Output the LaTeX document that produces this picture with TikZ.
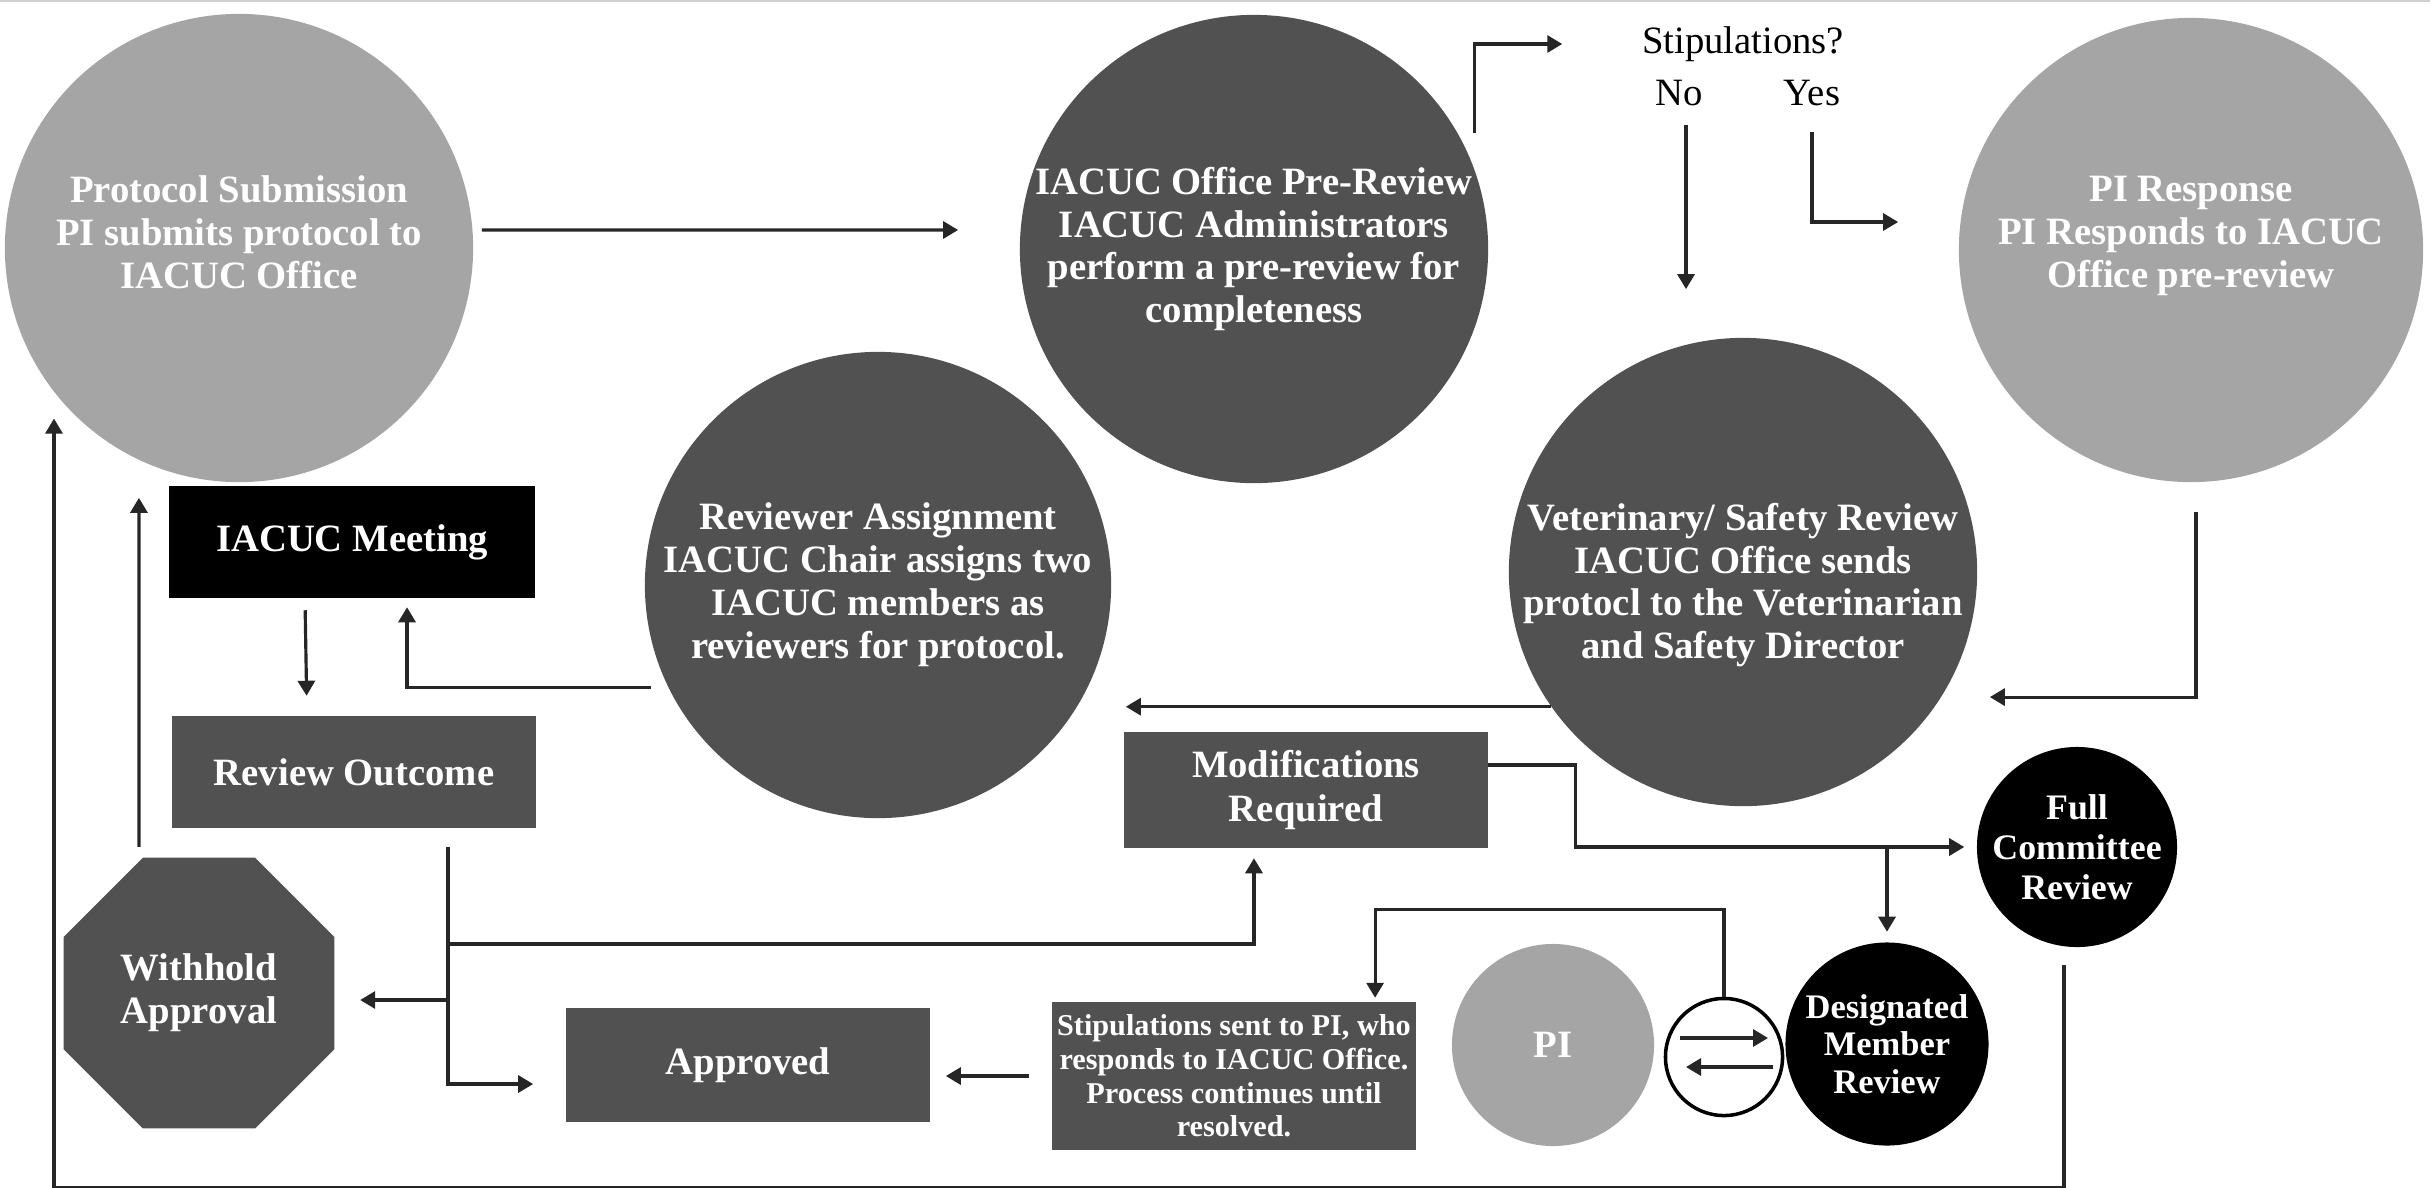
\documentclass[tikz,border=0pt]{standalone}
\usepackage{fontspec}
\setmainfont{Liberation Serif}
\usetikzlibrary{arrows.meta,shapes.geometric}
\definecolor{lightdisc}{HTML}{A5A5A5}
\definecolor{darkdisc}{HTML}{515151}
\definecolor{rulegray}{HTML}{D0D0D0}
\begin{document}
\begin{tikzpicture}[x=0.01cm,y=-0.01cm,
    arr/.style={draw=black!85, line width=0.9pt, -{Triangle[length=0.15cm,width=0.17cm]}},
    bigdisc/.style={circle, minimum size=4.68cm, inner sep=0pt},
    smalldisc/.style={circle, minimum size=2.02cm, inner sep=0pt},
    wtxt/.style={text=white, font=\bfseries\fontsize{11}{12.2}\selectfont, align=center},
    box/.style={rectangle, minimum width=3.64cm, minimum height=1.12cm, inner sep=0pt,
      fill=darkdisc, text=white, font=\bfseries\fontsize{11}{12.6}\selectfont, align=center},
    plain/.style={inner sep=0pt, font=\fontsize{11}{12}\selectfont}]

\useasboundingbox (0,0) rectangle (2430,1187);
\draw[rulegray, line width=0.6pt] (0,1) -- (2430,1);

% big steps
\node[bigdisc, fill=lightdisc, label={[wtxt, yshift=0.16cm]center:{Protocol Submission\\PI submits protocol to\\IACUC Office}}] (ps) at (239,248) {};
\node[bigdisc, fill=darkdisc, label={[wtxt]center:{IACUC Office Pre-Review\\IACUC Administrators\\perform a pre-review for\\completeness}}] (pr) at (1254,249) {};
\node[bigdisc, fill=lightdisc, minimum size=4.64cm, label={[wtxt, yshift=0.14cm]center:{PI Response\\PI Responds to IACUC\\Office pre-review}}] (pir) at (2191,250) {};
\node[bigdisc, fill=darkdisc, minimum size=4.66cm, label={[wtxt]center:{Reviewer Assignment\\IACUC Chair assigns two\\IACUC members as\\reviewers for protocol.}}] (ra) at (878,585) {};
\node[bigdisc, fill=darkdisc, label={[wtxt, yshift=-0.13cm]center:{Veterinary/ Safety Review\\IACUC Office sends\\protocl to the Veterinarian\\and Safety Director}}] (vs) at (1743,572) {};

\node[plain] (stq) at (1743,44) {Stipulations?};
\node[plain] (no) at (1679,93) {No};
\node[plain] (yes) at (1812,93) {Yes};

% boxes
\node[box, fill=black, minimum width=3.65cm, minimum height=1.11cm] (meeting) at (352,542) {IACUC Meeting};
\node[box, minimum height=1.11cm] (outcome) at (354,772) {Review Outcome};
\node[regular polygon, regular polygon sides=8, minimum size=2.93cm, inner sep=0pt, fill=darkdisc,
  text=white, font=\bfseries\fontsize{11}{12.2}\selectfont, align=center] (withhold) at (199,993) {Withhold\\Approval};
\node[box, minimum height=1.13cm] (approved) at (748,1065) {Approved};
\node[box, minimum width=3.63cm, minimum height=1.15cm] (mods) at (1306,790) {Modifications\\Required};
\node[box, minimum width=3.63cm, minimum height=1.47cm, font=\bfseries\fontsize{8.6}{9.6}\selectfont] (stip) at (1234,1076)
  {Stipulations sent to PI, who\\responds to IACUC Office.\\Process continues until\\resolved.};

% small discs
\node[smalldisc, fill=black, minimum size=2.0cm, label={[wtxt, font=\bfseries\fontsize{10.2}{11.3}\selectfont]center:{Full\\Committee\\Review}}] (fcr) at (2077,847) {};
\node[smalldisc, fill=black, minimum size=2.03cm, label={[wtxt, font=\bfseries\fontsize{9.8}{10.6}\selectfont]center:{Designated\\Member\\Review}}] (dmr) at (1887,1044) {};
\node[smalldisc, fill=lightdisc, label={[wtxt]center:{PI}}] (pi) at (1553,1045) {};
\node[circle, minimum size=1.17cm, inner sep=0pt, draw=black, line width=1pt, fill=white] (xch) at (1724,1057) {};
\draw[arr] ([xshift=-0.44cm,yshift=0.19cm]xch.center) -- ([xshift=0.44cm,yshift=0.19cm]xch.center);
\draw[arr] ([xshift=0.49cm,yshift=-0.1cm]xch.center) -- ([xshift=-0.38cm,yshift=-0.1cm]xch.center);

% connectors
\draw[arr, shorten <=0.08cm, shorten >=0.61cm] ([yshift=0.18cm]ps.east) -- ([yshift=0.19cm]pr.west);
\draw[arr, shorten <=0.36cm, shorten >=0.79cm] (pr.20) |- (stq.west);
\draw[arr, shorten <=0.18cm, shorten >=0.48cm] ([xshift=0.07cm]no.south) -- ([xshift=0.07cm]no.south |- vs.north);
\draw[arr, shorten <=0.25cm, shorten >=0.6cm] (yes.south) |- ([yshift=0.28cm]pir.west);
\draw[arr, shorten <=0.29cm, shorten >=0.12cm] ([xshift=0.05cm]pir.south) |- ([yshift=-1.25cm]vs.east);
\draw[arr, shorten >=0.14cm] (vs.215) -- (vs.215 -| ra.east);
\draw[arr, shorten <=0.17cm, shorten >=0.09cm] (ra.206) -| ([xshift=0.55cm]meeting.south);
\draw[arr, shorten <=0.12cm, shorten >=0.2cm] ([xshift=-0.47cm]meeting.south) -- ([xshift=-0.47cm]outcome.north);
\draw[arr, shorten <=0.1cm, shorten >=0.15cm] ([xshift=-0.6cm]withhold.north) -- ([xshift=-1cm]ps.south);

\coordinate (jmod) at (448,944);
\coordinate (jwh) at (448,1000);
\draw[arr, shorten <=0.19cm, shorten >=0.32cm] ([xshift=0.94cm]outcome.south) |- ([yshift=-0.19cm]approved.west);
\draw[arr, shorten >=0.1cm] (jmod) -| ([xshift=-0.52cm]mods.south);
\draw[arr, shorten >=0.25cm] (jwh) -- (withhold.east |- jwh);
\draw[arr, shorten <=0.23cm, shorten >=0.15cm] (stip.west) -- (approved.east |- stip.west);

\draw[arr, shorten >=0.12cm] ([yshift=0.25cm]mods.east) -- ++(0.87cm,0cm) |- (fcr.west);
\draw[arr, shorten >=0.1cm] (dmr.north |- fcr.west) -- (dmr.north);
\draw[arr, shorten >=0.04cm] (xch.north) -- ++(0cm,0.87cm) -| ([xshift=1.41cm]stip.north);

\coordinate (ret) at (54,1187.5);
\draw[arr, shorten <=0.17cm, shorten >=0.26cm] ([xshift=-0.13cm]fcr.south) |- (ret) -- (ret |- ps.218);

\end{tikzpicture}
\end{document}
